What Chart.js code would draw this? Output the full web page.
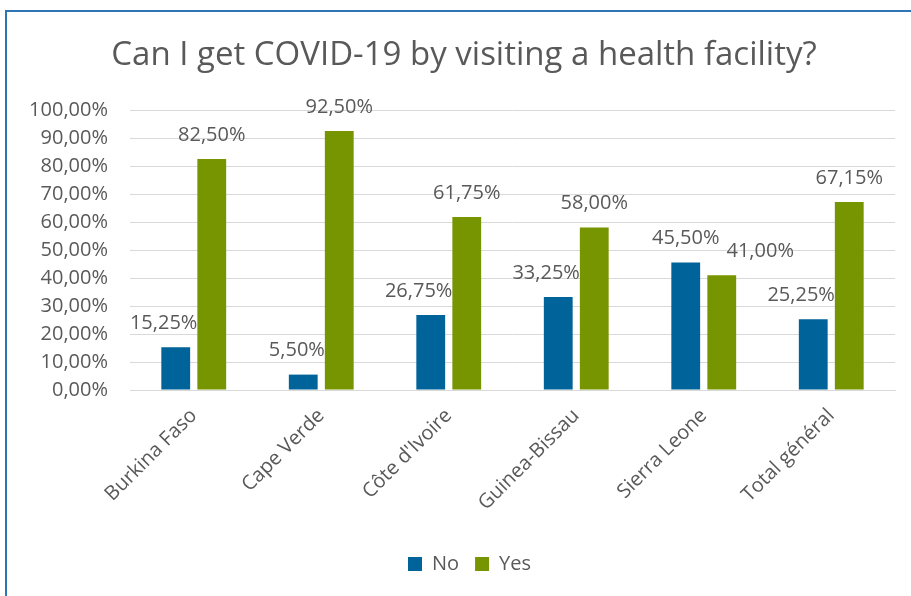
<!DOCTYPE html>
<html>
<head>
<meta charset="utf-8">
<script src="https://cdn.jsdelivr.net/npm/chart.js@4/dist/chart.umd.min.js"></script>
<style>
  html, body { margin: 0; padding: 0; background: #fff; }
  #wrap { position: relative; width: 911px; height: 596px; overflow: hidden; }
  #frame { position: absolute; left: 5px; top: 10px; width: 1000px; height: 1000px;
           border: 2px solid #2e75b6; box-sizing: border-box; }
  #chart { position: absolute; left: 0; top: 0; }
</style>
</head>
<body>
<div id="wrap">
  <div id="frame"></div>
  <canvas id="chart" width="911" height="596"></canvas>
</div>
<script>
// Données
const countries = ['Burkina Faso', 'Cape Verde', "Côte d'Ivoire", 'Guinea-Bissau', 'Sierra Leone', 'Total général'];
const noValues = [15.25, 5.5, 26.75, 33.25, 45.5, 25.25];
const yesValues = [82.5, 92.5, 61.75, 58.0, 41.0, 67.15];
const chartTitle = 'Can I get COVID-19 by visiting a health facility?';

const textColor = '#595959';
const fontFamily = '"Open Sans", sans-serif';

function pct(v) {
    return v.toFixed(2).replace('.', ',') + '%';
}

// Titre dessiné à la main
const titlePlugin = {
    id: 'titleDraw',
    afterLayout(chart) {
        // recentrer la légende comme dans Excel
        if (chart.legend) {
            chart.legend.left += 22;
            chart.legend.right += 22;
        }
    },
    afterDraw(chart) {
        const ctx = chart.ctx;
        ctx.save();
        ctx.fillStyle = textColor;
        ctx.font = '33px ' + fontFamily;
        ctx.textAlign = 'center';
        ctx.textBaseline = 'middle';
        ctx.fillText(chartTitle, 464, 56);
        ctx.restore();
    }
};

// Étiquettes de données (comme Excel "Bout extérieur")
const labelPlugin = {
    id: 'barLabels',
    afterDatasetsDraw(chart) {
        const ctx = chart.ctx;
        ctx.save();
        ctx.font = '20px ' + fontFamily;
        ctx.fillStyle = textColor;
        ctx.textBaseline = 'middle';
        ctx.textAlign = 'center';
        const metaNo = chart.getDatasetMeta(0);
        const metaYes = chart.getDatasetMeta(1);
        metaNo.data.forEach((bar, i) => {
            const yesBar = metaYes.data[i];
            const txtNo = pct(noValues[i]);
            const txtYes = pct(yesValues[i]);
            const wNo = ctx.measureText(txtNo).width;
            const wYes = ctx.measureText(txtYes).width;
            const yNo = bar.y - 24;
            const yYes = yesBar.y - 24;
            const yesLeft = yesBar.x - yesBar.width / 2;

            // "No" : décaler à gauche si le texte chevauche la barre "Yes"
            let xNo = bar.x;
            if (yNo + 10 > yesBar.y && xNo + wNo / 2 > yesLeft) {
                xNo = yesLeft - wNo / 2;
            }
            // "Yes" : décaler à droite si le texte chevauche l'étiquette "No"
            let xYes = yesBar.x;
            const noRight = xNo + wNo / 2;
            if (Math.abs(yNo - yYes) < 22 && xYes - wYes / 2 < noRight + 7) {
                xYes = noRight + 7 + wYes / 2;
            }
            ctx.fillText(txtNo, xNo, yNo);
            ctx.fillText(txtYes, xYes, yYes);
        });
        ctx.restore();
    }
};

new Chart(document.getElementById('chart'), {
    type: 'bar',
    data: {
        labels: countries,
        datasets: [{
            label: 'No',
            data: noValues,
            backgroundColor: '#006399',
            borderWidth: 0,
            categoryPercentage: 0.565,
            barPercentage: 0.8
        }, {
            label: 'Yes',
            data: yesValues,
            backgroundColor: '#779500',
            borderWidth: 0,
            categoryPercentage: 0.565,
            barPercentage: 0.8
        }]
    },
    options: {
        responsive: false,
        animation: false,
        layout: {
            padding: { top: 110, right: 16, bottom: 12, left: 0 }
        },
        plugins: {
            title: { display: false },
            tooltip: { enabled: false },
            legend: {
                position: 'bottom',
                labels: {
                    color: textColor,
                    font: { family: fontFamily, size: 20 },
                    boxWidth: 14,
                    boxHeight: 14,
                    padding: 16
                }
            }
        },
        scales: {
            x: {
                grid: { display: false },
                border: { display: true, color: '#d9d9d9', width: 1 },
                ticks: {
                    color: textColor,
                    font: { family: fontFamily, size: 20 },
                    minRotation: 45,
                    maxRotation: 45,
                    padding: 6
                },
                afterFit(scale) { scale.height = 148; }
            },
            y: {
                min: 0,
                max: 100,
                border: { display: false },
                grid: { color: '#d9d9d9', lineWidth: 1, drawTicks: false },
                ticks: {
                    stepSize: 10,
                    color: textColor,
                    font: { family: fontFamily, size: 20 },
                    padding: 22,
                    callback: v => pct(v)
                },
                afterFit(scale) { scale.width = 130; }
            }
        }
    },
    plugins: [titlePlugin, labelPlugin]
});
</script>
</body>
</html>
